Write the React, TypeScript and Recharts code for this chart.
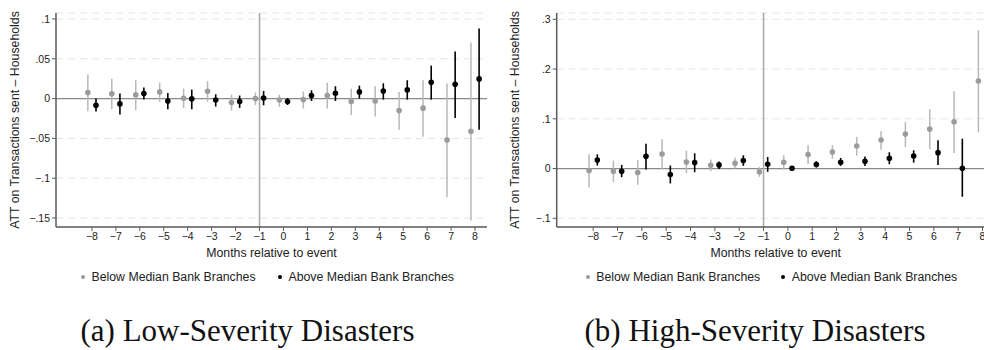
import React from 'react';
import { ComposedChart, Scatter, ErrorBar, XAxis, YAxis, CartesianGrid, ReferenceLine, Label } from 'recharts';

const months = [-8, -7, -6, -5, -4, -3, -2, -1, 0, 1, 2, 3, 4, 5, 6, 7, 8];
const monthsHighAbove = [-8, -7, -6, -5, -4, -3, -2, -1, 0, 1, 2, 3, 4, 5, 6, 7];

const lowBelowEst = [0.0075, 0.006, 0.0046, 0.0084, 0.0004, 0.0092, -0.005, 0.0, -0.0017, -0.0013, 0.0038, -0.0038, -0.003, -0.015, -0.012, -0.052, -0.041];
const lowBelowLo = [-0.016, -0.013, -0.0146, -0.004, -0.012, -0.004, -0.015, -0.008, -0.0105, -0.0125, -0.0125, -0.0205, -0.0226, -0.039, -0.048, -0.124, -0.153];
const lowBelowHi = [0.0305, 0.025, 0.023, 0.02, 0.0125, 0.0218, 0.005, 0.0075, 0.005, 0.009, 0.02, 0.0125, 0.0155, 0.0084, 0.023, 0.0188, 0.0703];

const lowAboveEst = [-0.0084, -0.0067, 0.0063, -0.003, -0.0004, -0.0017, -0.0038, 0.0008, -0.0038, 0.0038, 0.0067, 0.0084, 0.0096, 0.0109, 0.0205, 0.018, 0.0247];
const lowAboveLo = [-0.0163, -0.02, -0.0013, -0.0134, -0.0134, -0.01, -0.0117, -0.0084, -0.008, -0.003, -0.003, 0.0, -0.0013, -0.0013, -0.0013, -0.0243, -0.039];
const lowAboveHi = [0.0, 0.0063, 0.0138, 0.0071, 0.0113, 0.0054, 0.0038, 0.0096, 0.0008, 0.0105, 0.0155, 0.0163, 0.0192, 0.023, 0.0414, 0.059, 0.0879];

const highBelowEst = [-0.004, -0.0053, -0.008, 0.0293, 0.0133, 0.0067, 0.0107, -0.0067, 0.0127, 0.028, 0.0333, 0.0453, 0.0573, 0.0693, 0.0793, 0.094, 0.176];
const highBelowLo = [-0.038, -0.027, -0.0327, -0.0013, -0.0093, -0.0053, 0.0, -0.0167, -0.002, 0.0087, 0.0193, 0.026, 0.038, 0.0433, 0.0387, 0.0313, 0.0727];
const highBelowHi = [0.0287, 0.016, 0.0167, 0.0587, 0.036, 0.018, 0.022, 0.0033, 0.0267, 0.0467, 0.0467, 0.0633, 0.0753, 0.0933, 0.1193, 0.1553, 0.278];

const highAboveEst = [0.0173, -0.0053, 0.0247, -0.012, 0.012, 0.0073, 0.016, 0.0087, 0.0007, 0.008, 0.0127, 0.0147, 0.0207, 0.0253, 0.032, 0.0007];
const highAboveLo = [0.006, -0.0173, -0.002, -0.03, -0.0073, -0.0007, 0.0053, -0.0067, -0.004, 0.002, 0.0053, 0.0053, 0.0087, 0.012, 0.0073, -0.0567];
const highAboveHi = [0.0287, 0.0073, 0.05, 0.006, 0.0307, 0.014, 0.0267, 0.0233, 0.0053, 0.0147, 0.0213, 0.024, 0.0327, 0.0367, 0.0567, 0.06];

const lowYTicks = [-0.15, -0.1, -0.05, 0, 0.05, 0.1];
const highYTicks = [-0.1, 0, 0.1, 0.2, 0.3];

const seriesNames = ['Below Median Bank Branches', 'Above Median Bank Branches'];
const captions = ['(a) Low-Severity Disasters', '(b) High-Severity Disasters'];
const xTitle = 'Months relative to event';
const yTitle = 'ATT on Transactions sent \u2013 Households';

const GRAY_PT = '#9b9b9b';
const GRAY_CI = '#b8b8b8';
const BLACK = '#000000';
const AXIS = '#5a5a5a';
const FONT = '"Liberation Sans", Arial, Helvetica, sans-serif';

function build(xs: number[], est: number[], lo: number[], hi: number[], shift: number) {
  return est.map((v, i) => ({ x: xs[i] + shift, y: v, err: [v - lo[i], hi[i] - v] }));
}

const fmtY = (v: number) => {
  if (v === 0) return '0';
  const s = Math.abs(v).toString().replace(/^0/, '');
  return (v < 0 ? '\u2212' : '') + s;
};
const fmtX = (v: number) => (v < 0 ? '\u2212' + Math.abs(v) : String(v));

const dot = (color: string) => (props: any) => (
  <circle cx={props.cx} cy={props.cy} r={2.8} fill={color} />
);

function Panel(props: any) {
  const { below, above, yDomain, yTicks, left, width, marginRight } = props;
  return (
    <div style={{ position: 'absolute', left, top: 0 }}>
      <ComposedChart width={width} height={267} margin={{ top: 13, right: marginRight, bottom: 0, left: 0 }}>
        <CartesianGrid vertical={false} stroke="#e4e4e4" strokeDasharray="7 5" strokeWidth={1} />
        <XAxis
          type="number"
          dataKey="x"
          domain={[-9.5, 8.5]}
          ticks={months}
          allowDataOverflow
          tickFormatter={fmtX}
          height={40}
          tickSize={4}
          tickMargin={2}
          interval={0}
          axisLine={{ stroke: AXIS, strokeWidth: 1.5 }}
          tickLine={{ stroke: AXIS }}
          tick={{ fill: '#222', fontSize: 10.5, fontFamily: FONT }}
        >
          <Label value={xTitle} position="insideBottom" offset={10} style={{ fill: '#222', fontSize: 12.3, fontFamily: FONT }} />
        </XAxis>
        <YAxis
          type="number"
          dataKey="y"
          domain={yDomain}
          ticks={yTicks}
          allowDataOverflow
          tickFormatter={fmtY}
          width={props.yWidth}
          tickSize={4}
          tickMargin={2}
          interval={0}
          axisLine={{ stroke: AXIS, strokeWidth: 1.5 }}
          tickLine={{ stroke: AXIS }}
          tick={{ fill: '#222', fontSize: 10.5, fontFamily: FONT }}
        >
          <Label value={yTitle} angle={-90} position="insideLeft" offset={15} style={{ textAnchor: 'middle', fill: '#222', fontSize: 12.3, fontFamily: FONT }} />
        </YAxis>
        <ReferenceLine y={0} stroke="#8a8a8a" strokeWidth={1.2} />
        <ReferenceLine x={-1} stroke="#a8a8a8" strokeWidth={1.5} />
        <Scatter name={seriesNames[0]} data={below} isAnimationActive={false} shape={dot(GRAY_PT)}>
          <ErrorBar dataKey="err" direction="y" width={0} stroke={GRAY_CI} strokeWidth={1.5} isAnimationActive={false} />
        </Scatter>
        <Scatter name={seriesNames[1]} data={above} isAnimationActive={false} shape={dot(BLACK)}>
          <ErrorBar dataKey="err" direction="y" width={0} stroke={BLACK} strokeWidth={1.6} isAnimationActive={false} />
        </Scatter>
      </ComposedChart>
    </div>
  );
}

function LegendItem({ left, color, text }: any) {
  return (
    <div style={{ position: 'absolute', left, top: 269, height: 16, display: 'flex', alignItems: 'center', fontFamily: FONT, fontSize: 12.3, color: '#222', whiteSpace: 'nowrap' }}>
      <span style={{ display: 'inline-block', width: 4.4, height: 4.4, borderRadius: '50%', background: color, marginRight: 6.3 }} />
      <span>{text}</span>
    </div>
  );
}

function Caption({ center, text }: any) {
  return (
    <div style={{ position: 'absolute', left: center - 250, width: 500, top: 315, textAlign: 'center', fontFamily: '"Liberation Serif", "Times New Roman", serif', fontSize: 31, lineHeight: '31px', color: '#111', whiteSpace: 'nowrap' }}>
      {text}
    </div>
  );
}

export default function App() {
  const lowBelow = build(months, lowBelowEst, lowBelowLo, lowBelowHi, -0.17);
  const lowAbove = build(months, lowAboveEst, lowAboveLo, lowAboveHi, 0.17);
  const highBelow = build(months, highBelowEst, highBelowLo, highBelowHi, -0.17);
  const highAbove = build(monthsHighAbove, highAboveEst, highAboveLo, highAboveHi, 0.17);
  return (
    <div style={{ position: 'fixed', left: 0, top: 0, width: 984, height: 350, overflow: 'hidden', background: '#fff' }}>
      <Panel below={lowBelow} above={lowAbove} yDomain={[-0.1613, 0.1075]} yTicks={lowYTicks} left={0} width={492} marginRight={5} yWidth={56} />
      <Panel below={highBelow} above={highAbove} yDomain={[-0.1175, 0.3127]} yTicks={highYTicks} left={500} width={500} marginRight={5.3} yWidth={56.7} />
      <LegendItem left={80.8} color={GRAY_PT} text={seriesNames[0]} />
      <LegendItem left={277.8} color={BLACK} text={seriesNames[1]} />
      <LegendItem left={585.5} color={GRAY_PT} text={seriesNames[0]} />
      <LegendItem left={781} color={BLACK} text={seriesNames[1]} />
      <Caption center={247.5} text={captions[0]} />
      <Caption center={755} text={captions[1]} />
    </div>
  );
}
